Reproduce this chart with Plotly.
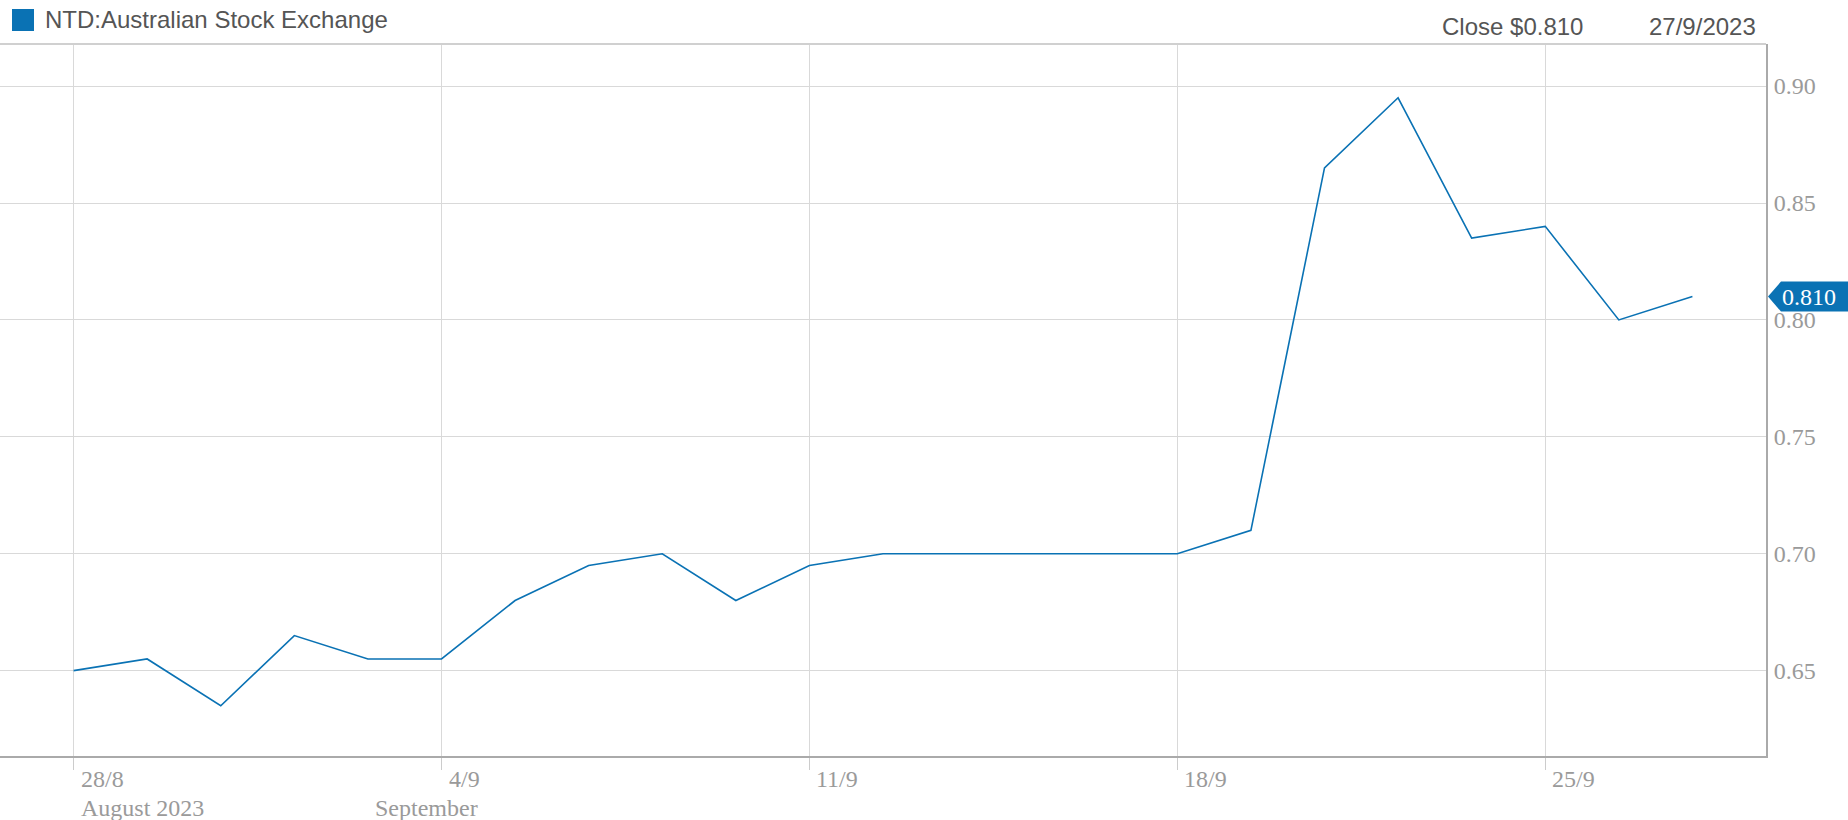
import plotly.graph_objects as go

# ---- data ----
dates = ["2023-08-28", "2023-08-29", "2023-08-30", "2023-08-31", "2023-09-01",
         "2023-09-04", "2023-09-05", "2023-09-06", "2023-09-07", "2023-09-08",
         "2023-09-11", "2023-09-12", "2023-09-13", "2023-09-14", "2023-09-15",
         "2023-09-18", "2023-09-19", "2023-09-20", "2023-09-21", "2023-09-22",
         "2023-09-25", "2023-09-26", "2023-09-27"]
close = [0.650, 0.655, 0.635, 0.665, 0.655,
         0.655, 0.680, 0.695, 0.700, 0.680,
         0.695, 0.700, 0.700, 0.700, 0.700,
         0.700, 0.710, 0.865, 0.895, 0.835,
         0.840, 0.800, 0.810]
series_name = "NTD:Australian Stock Exchange"
week_ticks = ["2023-08-28", "2023-09-04", "2023-09-11", "2023-09-18", "2023-09-25"]
week_labels = ["28/8", "4/9", "11/9", "18/9", "25/9"]
month_ticks = ["2023-08-28", "2023-09-01"]
month_labels = ["August 2023", "September"]
y_ticks = [0.65, 0.70, 0.75, 0.80, 0.85, 0.90]
last_date_label = "27/9/2023"

LINE = "#0a72b4"
GRID = "#d9d9d9"
AXIS = "#aaaaaa"
LABEL = "#9a9a9a"
TEXT = "#555555"
SERIF = "Liberation Serif, Times New Roman, serif"
SANS = "Liberation Sans, Arial, sans-serif"

W, H = 1848, 820
ML, MR, MT, MB = 0, 82, 44, 64
PW, PH = W - ML - MR, H - MT - MB

def px(x):
    return (x - ML) / PW

def py(y):
    return (H - MB - y) / PH

fig = go.Figure()
fig.add_trace(go.Scatter(x=dates, y=close, mode="lines",
                         line=dict(color=LINE, width=1.6),
                         name=series_name, showlegend=False, hoverinfo="x+y"))

fig.update_layout(
    width=W, height=H,
    margin=dict(l=ML, r=MR, t=MT, b=MB),
    paper_bgcolor="white", plot_bgcolor="white",
    xaxis=dict(
        type="date",
        range=["2023-08-25", "2023-09-28"],
        rangebreaks=[dict(bounds=["sat", "mon"])],
        tickvals=week_ticks, ticktext=[""] * len(week_ticks),
        showgrid=True, gridcolor=GRID, gridwidth=1,
        ticks="outside", ticklen=12, tickcolor="#cccccc", tickwidth=1,
        showline=True, linecolor=AXIS, linewidth=2,
        zeroline=False, fixedrange=True,
    ),
    yaxis=dict(
        side="right",
        range=[0.6135, 0.918],
        tickvals=y_ticks, ticktext=[f"{v:.2f}" for v in y_ticks],
        tickfont=dict(family=SERIF, size=24, color=LABEL),
        ticklabelstandoff=1,
        showgrid=True, gridcolor=GRID, gridwidth=1,
        showline=True, linecolor=AXIS, linewidth=2,
        ticks="", zeroline=False, fixedrange=True,
    ),
    showlegend=False,
)

annotations = []
for d, lab in zip(week_ticks, week_labels):
    annotations.append(dict(x=d, xref="x", y=0, yref="paper", yshift=-23,
                            text=lab, showarrow=False, xanchor="left", yanchor="middle",
                            xshift=5, font=dict(family=SERIF, size=24, color=LABEL)))
for d, lab in zip(month_ticks, month_labels):
    annotations.append(dict(x=d, xref="x", y=0, yref="paper", yshift=-52,
                            text=lab, showarrow=False, xanchor="left", yanchor="middle",
                            xshift=5, font=dict(family=SERIF, size=24, color=LABEL)))

# legend-like header
annotations.append(dict(x=px(43), xref="paper", y=py(20), yref="paper", text=series_name,
                        showarrow=False, xanchor="left", yanchor="middle",
                        font=dict(family=SANS, size=24, color=TEXT)))
annotations.append(dict(x=px(1585), xref="paper", y=py(26), yref="paper",
                        text=f"Close ${close[-1]:.3f}",
                        showarrow=False, xanchor="right", yanchor="middle",
                        font=dict(family=SANS, size=24, color=TEXT)))
annotations.append(dict(x=px(1758), xref="paper", y=py(26), yref="paper",
                        text=last_date_label,
                        showarrow=False, xanchor="right", yanchor="middle",
                        font=dict(family=SANS, size=24, color=TEXT)))
# price tag text
annotations.append(dict(x=1, xref="paper", xshift=14, y=close[-1], yref="y",
                        text=f"{close[-1]:.3f}", showarrow=False, xanchor="left",
                        yanchor="middle", font=dict(family=SERIF, size=24, color="white")))

shapes = [
    # top border
    dict(type="line", xref="paper", yref="paper", x0=0, x1=1, y0=1, y1=1,
         line=dict(color="#d0d0d0", width=2)),
    # legend square
    dict(type="rect", xref="paper", yref="paper", x0=px(12), x1=px(34), y0=py(31), y1=py(9),
         fillcolor=LINE, line=dict(width=0)),
    # price tag
    dict(type="path", xref="paper", yref="y", xsizemode="pixel", ysizemode="pixel",
         xanchor=1, yanchor=close[-1],
         path="M 2 0 L 15 -15 L 90 -15 L 90 15 L 15 15 Z",
         fillcolor=LINE, line=dict(width=0)),
]

fig.update_layout(annotations=annotations, shapes=shapes)
fig.write_html("out.html",
               config={"displayModeBar": False},
               post_script="document.body.style.margin='0px';document.body.style.overflow='hidden';")
